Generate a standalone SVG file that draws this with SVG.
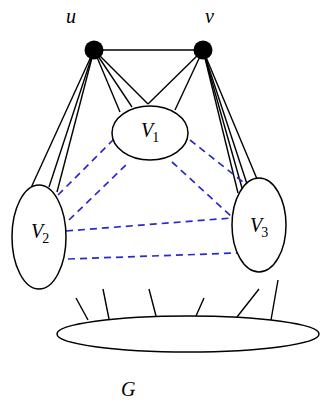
<svg xmlns="http://www.w3.org/2000/svg" width="323" height="403" viewBox="0 0 323 403">
<style>
.e{fill:#fff;stroke:#000;stroke-width:1.5}
.l{stroke:#000;stroke-width:1.4;fill:none}
.d{stroke:#2a2acc;stroke-width:1.7;stroke-dasharray:7 5;fill:none}
.t{font-family:"Liberation Serif",serif;font-style:italic;font-size:20px;fill:#000}
.s{font-family:"Liberation Serif",serif;font-style:normal;font-size:14px;fill:#000}
</style>
<rect width="323" height="403" fill="#fff"/>
<g id="connectors">
<line class="l" x1="94" y1="50" x2="203" y2="50"/>
<line class="l" x1="94" y1="50" x2="30" y2="190"/>
<line class="l" x1="94" y1="50" x2="49" y2="187"/>
<line class="l" x1="94" y1="50" x2="57" y2="192"/>
<line class="l" x1="94" y1="50" x2="120" y2="112"/>
<line class="l" x1="94" y1="50" x2="132" y2="107"/>
<line class="l" x1="94" y1="50" x2="148" y2="104"/>
<line class="l" x1="203" y1="50" x2="148" y2="104"/>
<line class="l" x1="203" y1="50" x2="175" y2="110"/>
<line class="l" x1="203" y1="50" x2="238" y2="193"/>
<line class="l" x1="203" y1="50" x2="242" y2="188"/>
<line class="l" x1="203" y1="50" x2="247" y2="184"/>
<line class="l" x1="203" y1="50" x2="257" y2="179"/>
<line class="l" x1="88" y1="320" x2="76" y2="298"/>
<line class="l" x1="109" y1="319" x2="103" y2="289"/>
<line class="l" x1="156" y1="316" x2="149" y2="289"/>
<line class="l" x1="196" y1="316" x2="204" y2="298"/>
<line class="l" x1="237" y1="317" x2="259" y2="289"/>
<line class="l" x1="271" y1="320" x2="278" y2="280"/>
<line class="d" x1="58" y1="195" x2="113" y2="140"/>
<line class="d" x1="69" y1="220" x2="128" y2="163"/>
<line class="d" x1="190" y1="140" x2="243" y2="182"/>
<line class="d" x1="172" y1="162" x2="232" y2="217"/>
<line class="d" x1="66" y1="231" x2="232" y2="218"/>
<line class="d" x1="68" y1="259" x2="237" y2="253"/>
</g>
<g id="u"><circle cx="94" cy="50" r="9.5" fill="#000"/><text class="t" x="66" y="23">u</text></g>
<g id="v"><circle cx="203" cy="50" r="9.5" fill="#000"/><text class="t" x="205" y="23">v</text></g>
<g id="V1"><ellipse class="e" cx="150" cy="133" rx="38" ry="27"/><text class="t" x="141" y="137">V<tspan class="s" dx="-1" dy="5">1</tspan></text></g>
<g id="V2"><ellipse class="e" cx="39" cy="237" rx="27" ry="52"/><text class="t" x="31" y="238">V<tspan class="s" dx="-1" dy="5">2</tspan></text></g>
<g id="V3"><ellipse class="e" cx="259" cy="225" rx="27" ry="47"/><text class="t" x="250" y="232">V<tspan class="s" dx="-1" dy="5">3</tspan></text></g>
<g id="G"><ellipse class="e" cx="188" cy="334" rx="131" ry="18" fill="none"/><text class="t" x="121" y="396">G</text></g>
</svg>
